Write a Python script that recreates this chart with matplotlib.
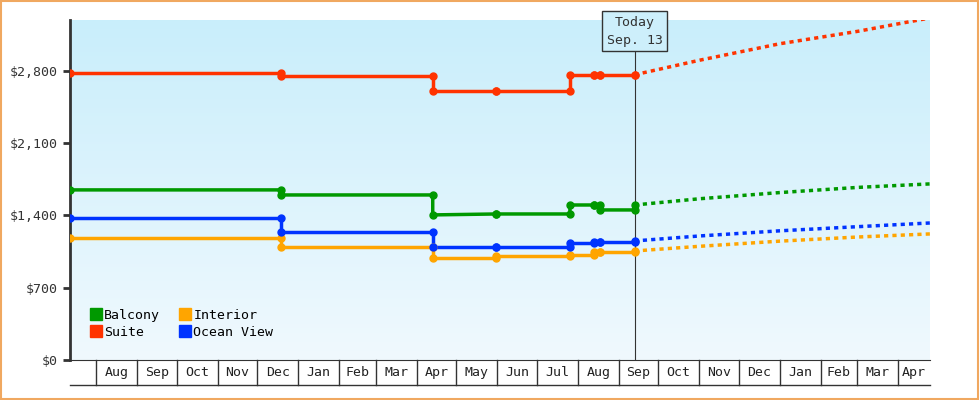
import numpy as np
import matplotlib.pyplot as plt
import matplotlib.dates as mdates
from datetime import date
from matplotlib.patches import Rectangle

plt.rcParams['font.family'] = ['DejaVu Sans Mono']

# history: (date, value) step points
hist_dates = [date(2012,7,12), date(2012,12,19), date(2013,4,13), date(2013,5,31),
              date(2013,7,26), date(2013,8,13), date(2013,8,18), date(2013,9,13)]
suite    = [2779, 2750, 2604, 2604, 2760, 2760, 2760, 2760]
balcony  = [1646, 1597, 1404, 1413, 1500, 1500, 1452, 1500]
ocean    = [1375, 1239, 1094, 1094, 1133, 1140, 1140, 1152]
interior = [1181, 1094,  987, 1007, 1016, 1045, 1045, 1055]
# value before the step at each date (for vertical jumps)
suite_pre    = [2779, 2779, 2750, 2604, 2604, 2760, 2760, 2760]
balcony_pre  = [1646, 1646, 1597, 1413, 1413, 1500, 1500, 1452]
ocean_pre    = [1375, 1375, 1239, 1094, 1094, 1133, 1140, 1140]
interior_pre = [1181, 1181, 1094,  987, 1007, 1016, 1045, 1045]

fc_dates = [date(2013,9,13), date(2013,11,1), date(2014,1,1), date(2014,3,1), date(2014,4,25)]
suite_fc    = [2760, 2900, 3060, 3180, 3310]
balcony_fc  = [1500, 1560, 1620, 1670, 1704]
ocean_fc    = [1152, 1200, 1250, 1290, 1326]
interior_fc = [1055, 1100, 1150, 1190, 1220]

series = [('Balcony', '#009900', balcony, balcony_pre, balcony_fc),
          ('Suite', '#ff3300', suite, suite_pre, suite_fc),
          ('Interior', '#ffa500', interior, interior_pre, interior_fc),
          ('Ocean View', '#0033ff', ocean, ocean_pre, ocean_fc)]

months = [date(2012,m,1) for m in range(8,13)] + [date(2013,m,1) for m in range(1,13)] + \
         [date(2014,m,1) for m in range(1,6)]
month_labels = [d.strftime('%b') for d in months[:-1]]

fig = plt.figure(figsize=(9.8, 4.0), dpi=100)
fig.patches.append(Rectangle((0.001, 0.002), 0.997, 0.995, transform=fig.transFigure,
                             fill=False, edgecolor='#f0a860', lw=1.5))
ax = fig.add_axes([70/980, 40/400, 860/980, 340/400])
x0 = mdates.date2num(date(2012,7,12)); x1 = mdates.date2num(date(2014,4,25))
ymax = 3290
ax.set_xlim(x0, x1)
ax.set_ylim(0, ymax)
grad = np.linspace(0, 1, 256).reshape(-1, 1)
from matplotlib.colors import LinearSegmentedColormap
cmap = LinearSegmentedColormap.from_list('bg', ['#f0f9fe', '#c9eefb'])
ax.imshow(grad, extent=[x0, x1, 0, ymax], origin='lower', aspect='auto', cmap=cmap, zorder=0)

for name, col, vals, pre, fc in series:
    xs = mdates.date2num(hist_dates)
    px, py = [xs[0]], [vals[0]]
    for i in range(1, len(xs)):
        px += [xs[i], xs[i]]; py += [pre[i], vals[i]]
    ax.plot(px, py, color=col, lw=2.5, zorder=3)
    ax.plot(xs, vals, 'o', color=col, ms=5, zorder=4)
    ax.plot(xs[1:], pre[1:], 'o', color=col, ms=5, zorder=4)
    ax.plot(mdates.date2num(fc_dates), fc, color=col, lw=2.5, ls=(0, (1.2, 1.2)), zorder=3)
    ax.plot([], [], 's', color=col, ms=8, label=name)

today = mdates.date2num(date(2013,9,13))
ax.axvline(today, color='#333333', lw=0.8, zorder=2)
ax.text(today, 3030, 'Today\nSep. 13', ha='center', va='bottom', fontsize=9.5, color='#333333',
        linespacing=1.5, zorder=5,
        bbox=dict(boxstyle='square,pad=0.35', fc='#cdeffb', ec='#333333', lw=1))

ax.set_yticks([0, 700, 1400, 2100, 2800])
ax.set_yticklabels(['$0', '$700', '$1,400', '$2,100', '$2,800'], fontsize=9.5, color='#333333')
ax.tick_params(axis='y', length=5, width=2, color='#333333')
ax.set_xticks([])
for s in ['top', 'right']:
    ax.spines[s].set_visible(False)
ax.spines['left'].set_linewidth(2)
ax.spines['left'].set_color('#333333')
ax.spines['bottom'].set_color('#333333')

# month cells below axis
trans = ax.get_xaxis_transform()
cell = -25/340
for m in months:
    xm = mdates.date2num(m)
    if xm < x1:
        ax.plot([xm, xm], [0, cell], transform=trans, color='#333333', lw=1, clip_on=False)
ax.plot([x0, x1], [cell, cell], transform=trans, color='#333333', lw=1, clip_on=False)
for a, b, lab in zip(months[:-1], months[1:], month_labels):
    xa, xb = mdates.date2num(a), min(mdates.date2num(b), x1)
    ax.text((xa + xb) / 2, cell / 2, lab, transform=trans, ha='center', va='center',
            fontsize=9.5, color='#222222')

ax.legend(loc='lower left', ncol=2, frameon=False, fontsize=9.5, handlelength=0.8,
          handletextpad=0.2, columnspacing=1.5, borderaxespad=1.2, labelspacing=0.3,
          bbox_to_anchor=(0.0, 0.0))
fig.savefig('out.png', dpi=100)
